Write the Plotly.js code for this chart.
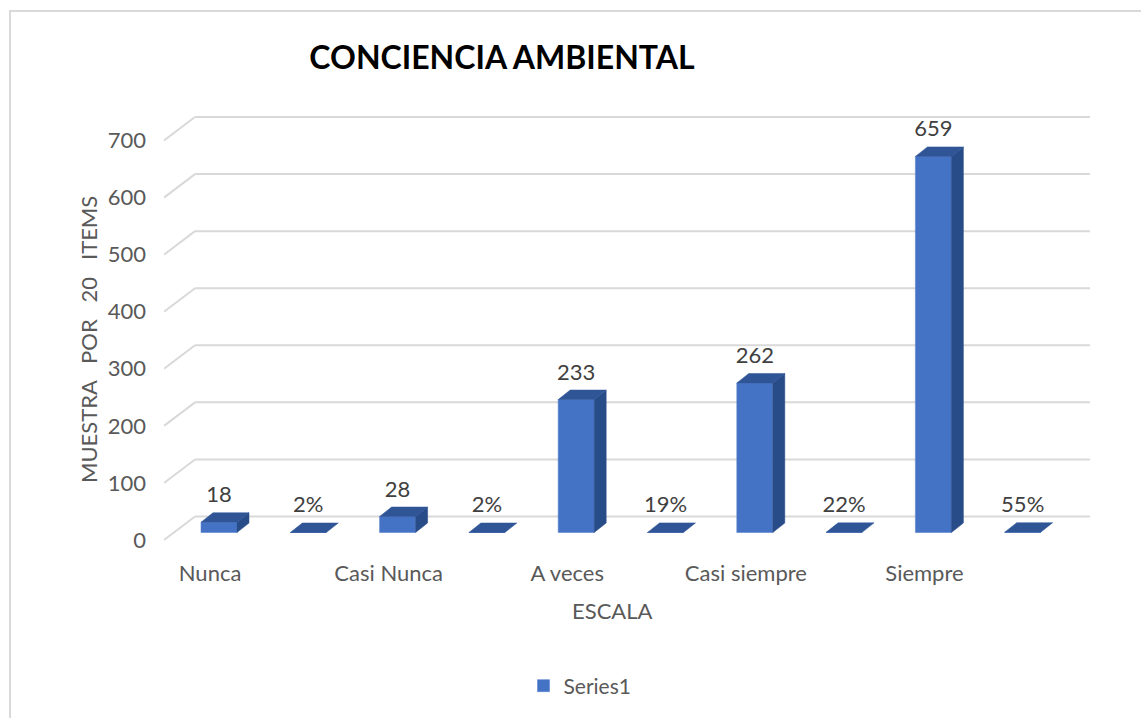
<!DOCTYPE html>
<html>
<head>
<meta charset="utf-8">
<script src="https://cdn.plot.ly/plotly-3.0.1.min.js"></script>
<style>html,body{margin:0;padding:0;background:#fff;}#chart{width:1141px;height:718px;}</style>
</head>
<body>
<div id="chart"></div>
<script>
// ---- data ----
const categories = ["Nunca", "", "Casi Nunca", "", "A veces", "", "Casi siempre", "", "Siempre", ""];
const values = [18, 0.02, 28, 0.02, 233, 0.19, 262, 0.22, 659, 0.55];
const yTicks = [0, 100, 200, 300, 400, 500, 600, 700];
const seriesName = "Series1";
const chartTitle = "CONCIENCIA AMBIENTAL";
const xTitle = "ESCALA";
const yTitle = "MUESTRA\u00a0\u00a0 POR\u00a0\u00a0 20\u00a0\u00a0 ITEMS";

// ---- geometry (pixels) ----
const W = 1141, H = 718;
const L = 164, R = 1090, T = 100, B = 545;
const plotW = R - L, plotH = B - T;
const sY = 0.5707;          // px per unit
const zeroFront = 540;      // pixel of value 0 at front edge
const unitX = 89.3;         // px per category
const firstCenter = 219;
const xa = -(firstCenter - L) / unitX;
const xb = xa + plotW / unitX;
const ya = -(B - zeroFront) / sY;
const yb = (zeroFront - T) / sY;
const px2x = p => xa + (p - L) / unitX;
const py2paper = p => (B - p) / plotH;
const px2paper = p => (p - L) / plotW;

const depthWallPx = 23.5, wallDxPx = 31;
const barW = 36 / unitX;
const dxD = 12 / unitX;
const dyD = 9.5 / sY;
const baseOff = (zeroFront - 532.5) / sY;
const labelOff = (zeroFront - 507) / sY;

const idx = categories.map((_, i) => i);
const labelText = values.map(v => v < 1 ? Math.round(v * 100) + "%" : String(v));

// gridlines as shapes
const shapes = [];
yTicks.forEach(t => {
  const back = t + depthWallPx / sY;
  shapes.push({type: "line", xref: "x", yref: "y", layer: "below",
    x0: px2x(L), y0: t, x1: px2x(L + wallDxPx), y1: back,
    line: {color: "#D9D9D9", width: 2}});
  shapes.push({type: "line", xref: "x", yref: "y", layer: "below",
    x0: px2x(L + wallDxPx), y0: back, x1: px2x(R), y1: back,
    line: {color: "#D9D9D9", width: 2}});
});
// chart area border
shapes.push({type: "rect", xref: "paper", yref: "paper", layer: "below",
  x0: px2paper(10), y0: py2paper(H + 20), x1: px2paper(W + 20), y1: py2paper(11),
  line: {color: "#D9D9D9", width: 2}, fillcolor: "rgba(0,0,0,0)"});

// faces
const topX = [], topY = [], sideX = [], sideY = [];
idx.forEach(i => {
  const v = values[i];
  const xl = i - barW / 2, xr = i + barW / 2;
  const y0 = baseOff, y1 = baseOff + v;
  topX.push(xl, xr, xr + dxD, xl + dxD, xl, null);
  topY.push(y1, y1, y1 + dyD, y1 + dyD, y1, null);
  if (v >= 1) {
    sideX.push(xr, xr + dxD, xr + dxD, xr, xr, null);
    sideY.push(y0, y0 + dyD, y1 + dyD, y1, y0, null);
  }
});

const font = "Lato, 'Open Sans', sans-serif";
const traces = [
  {type: "bar", x: idx, y: values, base: baseOff, width: barW, name: seriesName,
   marker: {color: "#4472C4", line: {color: "#5B85D0", width: 0.6}},
   hoverinfo: "skip", showlegend: true},
  {type: "scatter", mode: "lines", x: sideX, y: sideY, fill: "toself",
   fillcolor: "#284C88", line: {color: "#284C88", width: 0.5}, showlegend: false, hoverinfo: "skip"},
  {type: "scatter", mode: "lines", x: topX, y: topY, fill: "toself",
   fillcolor: "#2F5597", line: {color: "#2F5597", width: 0.5}, showlegend: false, hoverinfo: "skip"},
  {type: "scatter", mode: "text", x: idx, y: values.map(v => v + labelOff), text: labelText,
   textposition: "middle center", textfont: {family: font, size: 22, color: "#404040"},
   showlegend: false, hoverinfo: "skip", cliponaxis: false}
];

const layout = {
  width: W, height: H,
  margin: {l: L, r: W - R, t: T, b: H - B, pad: 0},
  paper_bgcolor: "#fff", plot_bgcolor: "rgba(0,0,0,0)",
  font: {family: font, color: "#595959", size: 22},
  title: {text: "<b>" + chartTitle + "</b>", xref: "container", yref: "container",
    x: 502 / W, xanchor: "center", y: 1 - 58 / H, yanchor: "middle",
    font: {family: font, size: 32, color: "#000"}},
  xaxis: {range: [xa, xb], tickvals: idx.map(i => i - 0.1), ticktext: categories,
    showgrid: false, zeroline: false, showline: false, ticks: "", ticklabelstandoff: 13,
    tickfont: {family: font, size: 22, color: "#595959"}, fixedrange: true},
  yaxis: {range: [ya, yb], tickvals: yTicks, ticktext: yTicks.map(String),
    showgrid: false, zeroline: false, showline: false, ticks: "", ticklabelstandoff: 17,
    tickfont: {family: font, size: 22, color: "#595959"}, fixedrange: true},
  shapes: shapes,
  annotations: [
    {text: xTitle, xref: "paper", yref: "paper", x: px2paper(612), y: py2paper(610),
     xanchor: "center", yanchor: "middle", showarrow: false, font: {family: font, size: 22, color: "#595959"}},
    {text: yTitle, xref: "paper", yref: "paper", x: px2paper(88), y: py2paper(340), textangle: -90,
     xanchor: "center", yanchor: "middle", showarrow: false, font: {family: font, size: 22, color: "#595959"}}
  ],
  showlegend: true,
  legend: {orientation: "h", xref: "paper", yref: "paper", x: px2paper(580), xanchor: "center",
    y: py2paper(686), yanchor: "middle", font: {family: font, size: 21, color: "#595959"},
    bgcolor: "rgba(0,0,0,0)", itemwidth: 30},
  bargap: 0
};

Plotly.newPlot("chart", traces, layout, {displayModeBar: false, staticPlot: true});
</script>
</body>
</html>
